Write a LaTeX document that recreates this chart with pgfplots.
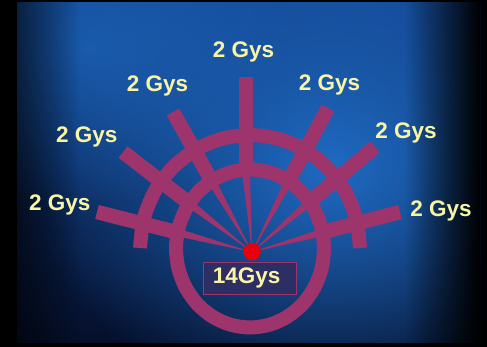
\documentclass[border=0pt]{standalone}
\usepackage{pgfplots}
\pgfplotsset{compat=1.18}
\usetikzlibrary{fadings}
\usepackage{fontspec}
\setmainfont{Liberation Sans}
\definecolor{beam}{RGB}{158,52,108}
\definecolor{lab}{RGB}{250,245,165}
\definecolor{boxfill}{RGB}{44,46,100}
\definecolor{dot}{RGB}{232,0,10}
\definecolor{bgtop}{RGB}{18,66,140}
\definecolor{bgmid}{RGB}{13,50,112}
\definecolor{bgbot}{RGB}{5,15,42}
\definecolor{glow}{RGB}{32,110,200}
\tikzfading[name=fadeR, left color=transparent!100, right color=transparent!0]
\tikzfading[name=fadeL, left color=transparent!0, right color=transparent!100]
\tikzfading[name=softglow, inner color=transparent!0, outer color=transparent!100]
\begin{document}
\begin{tikzpicture}
\fill[black] (0,0) rectangle (487bp,347bp);
\begin{scope}
\clip (17bp,4bp) rectangle (480bp,344bp);
\shade[top color=bgtop, middle color=bgmid, bottom color=bgbot] (17bp,4bp) rectangle (480bp,344bp);
\fill[glow, fill opacity=0.95, path fading=softglow] (330bp,180bp) ellipse (300bp and 250bp);
\fill[glow, fill opacity=0.6, path fading=softglow] (90bp,300bp) ellipse (200bp and 160bp);
\fill[black, path fading=fadeR] (405bp,0bp) rectangle (481bp,347bp);
\fill[black, fill opacity=0.6, path fading=fadeL] (16bp,0bp) rectangle (80bp,347bp);
\end{scope}
\begin{axis}[width=487bp, height=347bp, scale only axis,
  xmin=0, xmax=487, ymin=0, ymax=347, axis lines=none, clip=false,
  every axis plot/.append style={mark=none}]
% outer semicircle arc
\addplot[draw=beam, line width=14bp, smooth] coordinates {
 (360,99) (356.25,128.24) (345.26,155.5) (327.78,178.9) (305,196.9) (278.5,208.1) (250,212)
 (221.5,208.1) (195,196.9) (172.2,178.9) (154.7,155.5) (143.75,128.24) (140,99)};
% inner ring
\addplot[draw=beam, line width=14bp, smooth cycle] coordinates {
 (324,98.5) (321.48,118.95) (314.08,138) (302.33,154.36) (287,166.92) (269.15,174.81) (250,177.5)
 (230.85,174.81) (213,166.92) (197.67,154.36) (185.92,138) (178.52,118.95) (176,98.5)
 (178.52,78.05) (185.92,59) (197.67,42.64) (213,30.08) (230.85,22.19) (250,19.5)
 (269.15,22.19) (287,30.08) (302.33,42.64) (314.08,59) (321.48,78.05)};
% thick beam bars
\addplot[draw=beam, line width=14.5bp] coordinates {(97,135) (175.4,115.1)};
\addplot[draw=beam, line width=14.5bp] coordinates {(123,195) (189.3,143.7)};
\addplot[draw=beam, line width=14.5bp] coordinates {(173,235) (212.8,164)};
\addplot[draw=beam, line width=14.5bp] coordinates {(246,270) (246,172)};
\addplot[draw=beam, line width=14.5bp] coordinates {(328,239) (288,164.7)};
\addplot[draw=beam, line width=14.5bp] coordinates {(375,200) (310.8,146.1)};
\addplot[draw=beam, line width=14.5bp] coordinates {(400,135) (326.5,115.75)};
% converging wedges
\addplot[fill=beam, draw=none] coordinates {(174.4,111.2) (176.4,119.0) (252,95)} --cycle;
\addplot[fill=beam, draw=none] coordinates {(186.9,140.5) (191.7,146.9) (252,95)} --cycle;
\addplot[fill=beam, draw=none] coordinates {(209.3,162.0) (216.3,166.0) (252,95)} --cycle;
\addplot[fill=beam, draw=none] coordinates {(242,176) (250,176) (252,95)} --cycle;
\addplot[fill=beam, draw=none] coordinates {(284.5,166.6) (291.5,162.8) (252,95)} --cycle;
\addplot[fill=beam, draw=none] coordinates {(308.2,149.2) (313.4,143.0) (252,95)} --cycle;
\addplot[fill=beam, draw=none] coordinates {(325.5,119.6) (327.5,111.9) (252,95)} --cycle;
% 14Gys box
\addplot[fill=boxfill, draw=beam, line width=1bp] coordinates {(203.3,52) (296,52) (296,84.3) (203.3,84.3)} --cycle;
% target dot
\addplot[only marks, mark=*, mark size=8.5bp, color=dot] coordinates {(252,95.3)};
% labels
\begin{scope}[every node/.style={text=lab, inner sep=0pt, font=\fontsize{22.5bp}{26bp}\selectfont\bfseries}]
\node at (axis cs:243.5,295) {2 Gys};
\node at (axis cs:157.5,261.5) {2 Gys};
\node at (axis cs:86.7,210) {2 Gys};
\node at (axis cs:59.7,142) {2 Gys};
\node at (axis cs:329.5,262) {2 Gys};
\node at (axis cs:406,214.5) {2 Gys};
\node at (axis cs:441,136) {2 Gys};
\node at (axis cs:246.7,68.7) {14Gys};
\end{scope}
\end{axis}
\end{tikzpicture}
\end{document}
